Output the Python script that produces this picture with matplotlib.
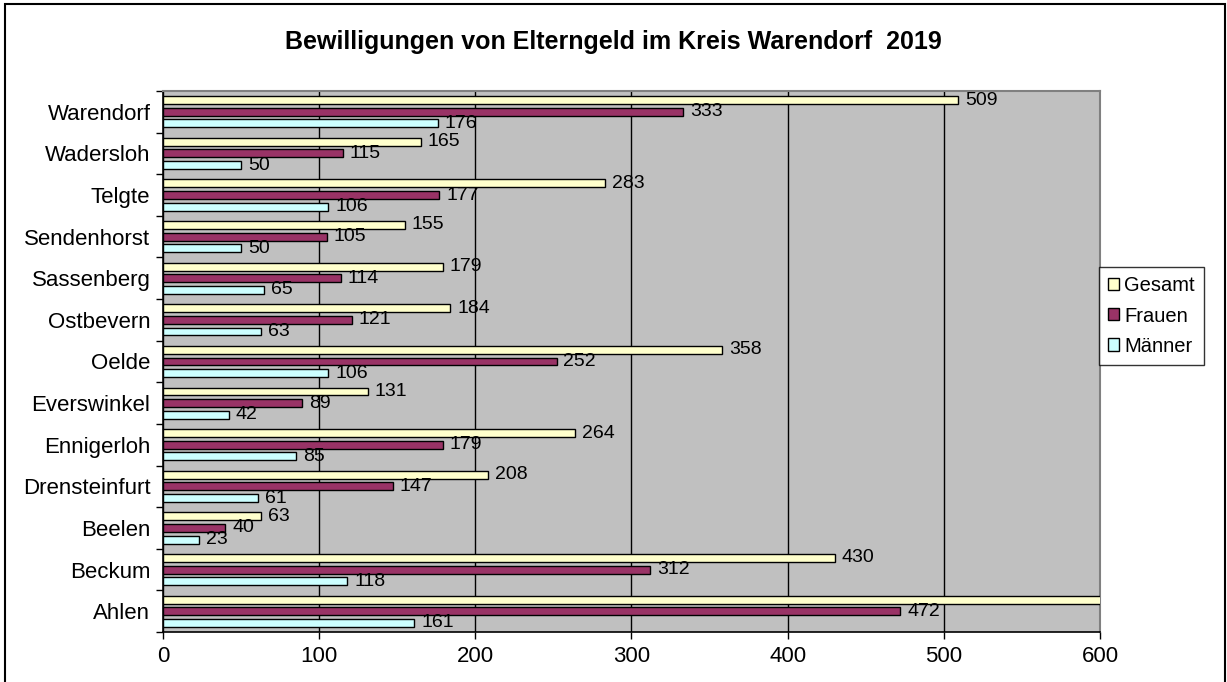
import matplotlib.pyplot as plt
import numpy as np
from matplotlib.patches import Rectangle

# Daten (von unten nach oben)
orte = ['Ahlen', 'Beckum', 'Beelen', 'Drensteinfurt', 'Ennigerloh', 'Everswinkel',
        'Oelde', 'Ostbevern', 'Sassenberg', 'Sendenhorst', 'Telgte', 'Wadersloh', 'Warendorf']
gesamt = [633, 430, 63, 208, 264, 131, 358, 184, 179, 155, 283, 165, 509]
frauen = [472, 312, 40, 147, 179, 89, 252, 121, 114, 105, 177, 115, 333]
maenner = [161, 118, 23, 61, 85, 42, 106, 63, 65, 50, 106, 50, 176]

plt.rcParams['font.family'] = ['Liberation Sans', 'DejaVu Sans']

fig = plt.figure(figsize=(12.27, 6.82), dpi=100)
ax = fig.add_axes([0.1328, 0.0733, 0.7637, 0.7933])

y = np.arange(len(orte))
step = 0.28
serien = [('Gesamt', gesamt, '#FFFFCC', step),
          ('Frauen', frauen, '#993366', 0),
          ('Männer', maenner, '#CCFFFF', -step)]

for name, werte, farbe, off in serien:
    bars = ax.barh(y + off, werte, height=0.19, color=farbe, edgecolor='black',
                   linewidth=1.0, label=name, zorder=3)
    for b, v in zip(bars, werte):
        ax.annotate(str(v), (v, b.get_y() + b.get_height() / 2), xytext=(5, 0),
                    textcoords='offset points', ha='left', va='center', fontsize=14,
                    annotation_clip=True, zorder=4)

ax.set_xlim(0, 600)
ax.set_ylim(-0.5, len(orte) - 0.5)
ax.set_facecolor('#C0C0C0')
ax.set_xticks(np.arange(0, 601, 100))
ax.set_yticks(y)
ax.set_yticklabels(orte)
ax.set_yticks(np.arange(-0.5, len(orte), 1), minor=True)
ax.tick_params(axis='y', which='major', length=0, labelsize=16, pad=9)
ax.tick_params(axis='y', which='minor', length=5, width=1, direction='out')
ax.tick_params(axis='x', length=5, width=1, labelsize=16, pad=5)
ax.grid(axis='x', color='black', linewidth=1, zorder=1)

ax.spines['left'].set_color('black')
ax.spines['bottom'].set_color('black')
ax.spines['left'].set_linewidth(1.2)
ax.spines['bottom'].set_linewidth(1.2)
ax.spines['top'].set_color('#808080')
ax.spines['right'].set_color('#808080')
ax.spines['top'].set_linewidth(1.5)
ax.spines['right'].set_linewidth(1.5)

fig.text(0.5, 0.938, 'Bewilligungen von Elterngeld im Kreis Warendorf  2019',
         ha='center', va='center', fontsize=18, fontweight='bold')

leg = ax.legend(loc='center left', bbox_to_anchor=(0.999, 0.584), fontsize=14.5,
                frameon=True, fancybox=False, edgecolor='black', borderpad=0.45,
                handlelength=0.55, handleheight=0.55, handletextpad=0.25, labelspacing=0.55,
                borderaxespad=0.0)
leg.get_frame().set_linewidth(1.0)

# Rahmen um die Grafik
fig.patches.append(Rectangle((5 / 1227, -0.01), 1220 / 1227, 1.01 - 3.5 / 682,
                             transform=fig.transFigure, fill=False,
                             edgecolor='black', linewidth=1.5))

fig.savefig('out.png', dpi=100, facecolor='white')
